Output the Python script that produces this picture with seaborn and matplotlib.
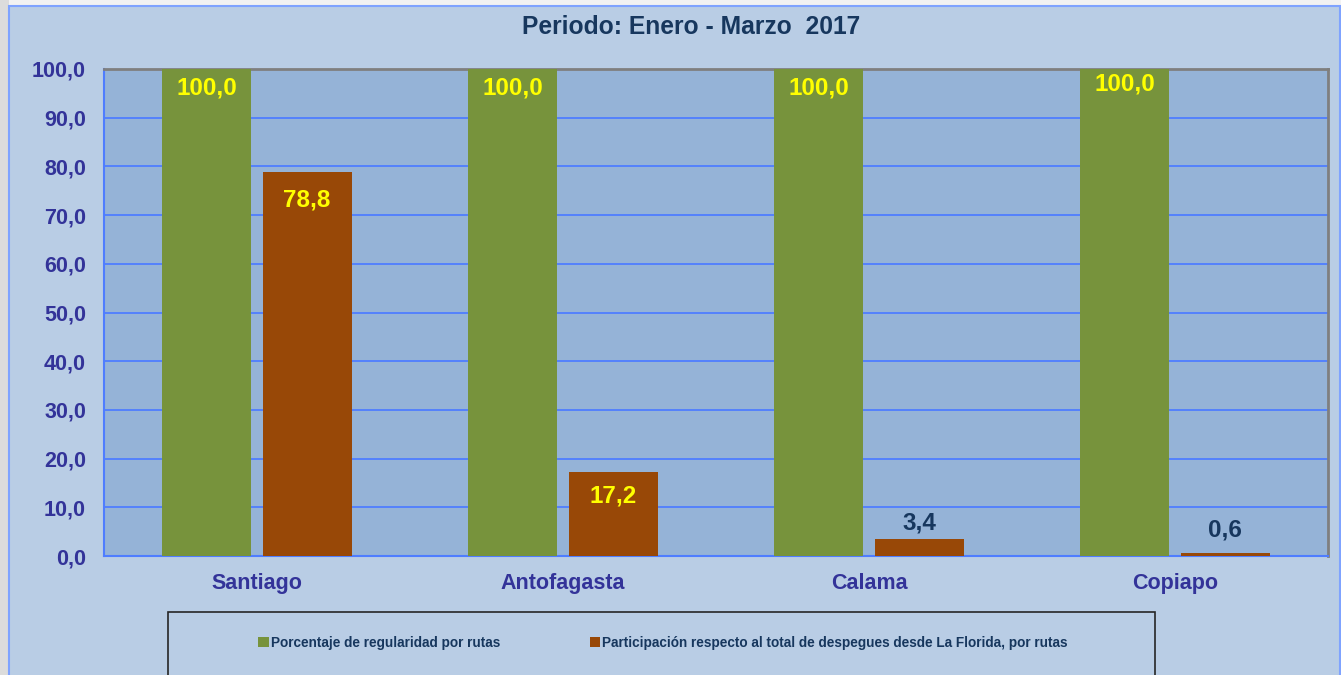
import matplotlib
matplotlib.use("Agg")
import matplotlib.pyplot as plt
from matplotlib.patches import Rectangle
from matplotlib.ticker import FuncFormatter, FixedLocator
import seaborn as sns
import pandas as pd

# ---- data ----
categories = ["Santiago", "Antofagasta", "Calama", "Copiapo"]
regularidad = [100.0, 100.0, 100.0, 100.0]
participacion = [78.8, 17.2, 3.4, 0.6]
series_names = ["Porcentaje de regularidad por rutas",
                "Participación respecto al total de despegues desde La Florida, por rutas"]
title = "Periodo: Enero - Marzo  2017"
y_ticks = [0, 10, 20, 30, 40, 50, 60, 70, 80, 90, 100]

df = pd.DataFrame({
    "ruta": categories * 2,
    "valor": regularidad + participacion,
    "serie": [series_names[0]] * len(categories) + [series_names[1]] * len(categories),
})

# ---- style ----
sns.set_style("white")
plt.rcParams["font.family"] = ["Liberation Sans", "DejaVu Sans"]
plt.rcParams["font.weight"] = "bold"

W, H = 1341, 675
GREEN, ORANGE = "#77933C", "#984807"
PLOT_BG, CHART_BG = "#95B3D7", "#B9CDE5"
BLUE = "#4F7DFF"
TICK_TXT = "#333399"
NAVY = "#17375E"

fig = plt.figure(figsize=(W / 100, H / 100), dpi=100)
fig.patch.set_facecolor("#F2F2F2")
fig.patches.append(Rectangle((0, 0), 9 / W, 1, transform=fig.transFigure,
                             facecolor="#DCDCDC", edgecolor="none", zorder=-10))
fig.patches.append(Rectangle((9 / W, -0.01), (1340 - 9) / W, 1 - 6 / H + 0.01,
                             transform=fig.transFigure, facecolor=CHART_BG,
                             edgecolor="#7FA3FF", linewidth=1.5, zorder=-9))

ax = fig.add_axes([104 / W, 1 - 556 / H, (1328 - 104) / W, (556 - 69) / H])
ax.set_facecolor(PLOT_BG)

sns.barplot(data=df, x="ruta", y="valor", hue="serie", order=categories,
            hue_order=series_names, palette=[GREEN, ORANGE], width=0.654,
            gap=0.11, saturation=1, errorbar=None, ax=ax, zorder=3,
            edgecolor="none")

ax.set_xlim(-0.5, len(categories) - 0.5)
ax.set_ylim(0, 100)
ax.set_xlabel("")
ax.set_ylabel("")

# grid
ax.set_yticks(y_ticks)
ax.yaxis.grid(True, color=BLUE, linewidth=1.3, zorder=1)
ax.set_axisbelow(True)
ax.yaxis.set_major_formatter(FuncFormatter(lambda v, p: f"{v:.1f}".replace(".", ",")))
ax.tick_params(axis="y", length=4.5, width=1.2, color=BLUE, direction="out",
               labelsize=15.5, labelcolor=TICK_TXT, pad=8.5)

# x ticks: boundaries as major (no labels), categories as minor labels
ax.xaxis.set_major_locator(FixedLocator([i - 0.5 for i in range(len(categories) + 1)]))
ax.xaxis.set_minor_locator(FixedLocator(list(range(len(categories)))))
ax.set_xticklabels([], minor=False)
ax.set_xticklabels(categories, minor=True)
ax.tick_params(axis="x", which="major", length=4.5, width=1.2, color=BLUE, direction="out")
ax.tick_params(axis="x", which="minor", length=0, labelsize=15.5, labelcolor=TICK_TXT, pad=12)
for lab in ax.get_yticklabels() + ax.get_xticklabels(minor=True):
    lab.set_fontweight("bold")

for side in ["left", "bottom"]:
    ax.spines[side].set_color(BLUE)
    ax.spines[side].set_linewidth(1.5)
for side in ["top", "right"]:
    ax.spines[side].set_color("#7F7F7F")
    ax.spines[side].set_linewidth(2)

# data labels
label_offsets_px = [[-19, -19, -19, -15], [-28, -24, 16, 23]]
for ci, cont in enumerate(ax.containers):
    for bi, bar in enumerate(cont):
        h = bar.get_height()
        xc = bar.get_x() + bar.get_width() / 2
        inside = h >= 10
        ax.annotate(f"{h:.1f}".replace(".", ","), (xc, h),
                    xytext=(0, label_offsets_px[ci][bi] * 0.72), textcoords="offset points",
                    ha="center", va="center", fontsize=17.5, fontweight="bold",
                    color="#FFFF00" if inside else NAVY, zorder=5)

# title
fig.text(691 / W, 1 - 27 / H, title, ha="center", va="center", fontsize=17.7,
         fontweight="bold", color=NAVY)

# legend box + legend
handles, labels = ax.get_legend_handles_labels()
ax.get_legend().remove()
fig.patches.append(Rectangle((168 / W, -0.05), (1155 - 168) / W, 0.05 + 1 - 612 / H,
                             transform=fig.transFigure, facecolor=CHART_BG,
                             edgecolor="#262626", linewidth=1.2, zorder=-5))
leg = fig.legend(handles, labels, loc="center", bbox_to_anchor=(663 / W, 1 - 643 / H),
                 ncol=2, frameon=False, fontsize=9.8, handlelength=0.75,
                 handleheight=0.75, handletextpad=0.15, columnspacing=6.6,
                 borderaxespad=0)
for t in leg.get_texts():
    t.set_color(NAVY)
    t.set_fontweight("bold")

fig.savefig("out.png", dpi=100, facecolor=fig.get_facecolor())
